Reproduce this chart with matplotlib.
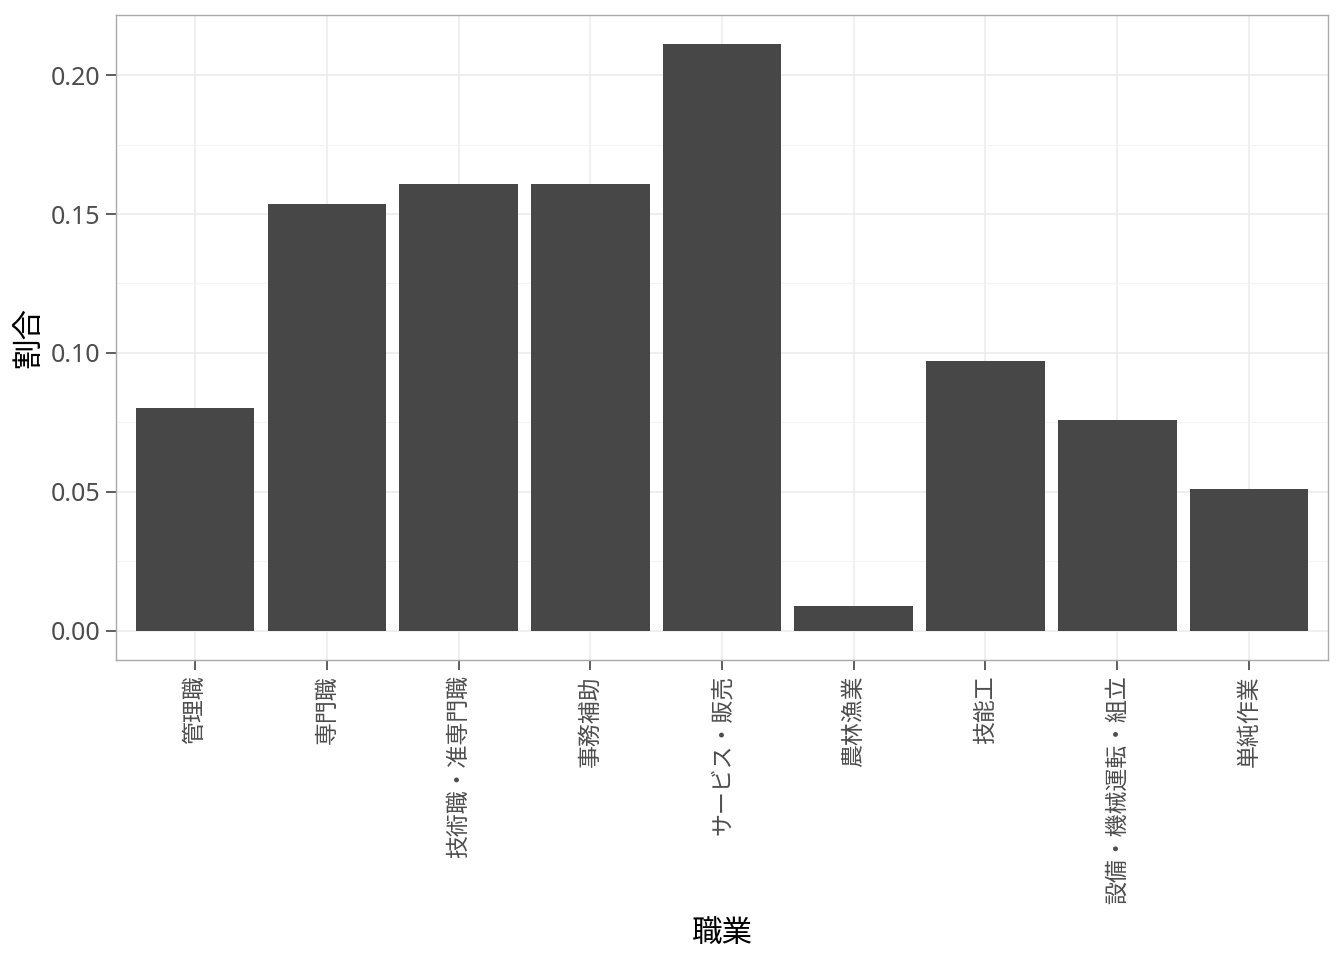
import matplotlib
matplotlib.use('Agg')
import matplotlib.pyplot as plt
import numpy as np
from matplotlib.ticker import MultipleLocator

plt.rcParams['font.family'] = ['Noto Sans CJK JP', 'DejaVu Sans']

occupations = ['管理職', '専門職', '技術職・准専門職', '事務補助', 'サービス・販売',
               '農林漁業', '技能工', '設備・機械運転・組立', '単純作業']
ratios = [0.080, 0.1537, 0.1609, 0.1609, 0.2111, 0.009, 0.097, 0.0758, 0.051]
yticks = [0.00, 0.05, 0.10, 0.15, 0.20]

fig = plt.figure(figsize=(13.44, 9.6), dpi=100)
ax = fig.add_axes([116 / 1344, 1 - 660 / 960, 1212 / 1344, 645 / 960])

x = np.arange(1, len(occupations) + 1)
ax.bar(x, ratios, width=0.9, color='#474747', zorder=3)

ymax = max(ratios)
pad = ymax * 0.05
ax.set_ylim(-pad, ymax + pad)
ax.set_xlim(0.4, len(occupations) + 0.6)

ax.yaxis.set_minor_locator(MultipleLocator(0.025))
ax.set_yticks(yticks)
ax.set_yticklabels(['{:.2f}'.format(v) for v in yticks], family=['Noto Sans', 'DejaVu Sans'], fontsize=18)
ax.set_xticks(x)
ax.set_xticklabels(occupations, rotation=90, fontsize=16.5)

ax.grid(which='major', color='#EBEBEB', linewidth=1.1, zorder=0)
ax.grid(which='minor', axis='y', color='#F2F2F2', linewidth=0.6, zorder=0)
ax.set_axisbelow(True)

for s in ax.spines.values():
    s.set_color('#AAAAAA')
    s.set_linewidth(1.0)

ax.tick_params(axis='both', which='major', length=7, width=1.1, color='#333333',
               labelcolor='#4D4D4D', pad=4)
ax.tick_params(axis='y', which='minor', length=0)

ax.set_xlabel('職業', fontsize=22, color='black', labelpad=10)
ax.set_ylabel('割合', fontsize=22, color='black', labelpad=5)

fig.savefig('out.png', dpi=100)
plt.close(fig)
